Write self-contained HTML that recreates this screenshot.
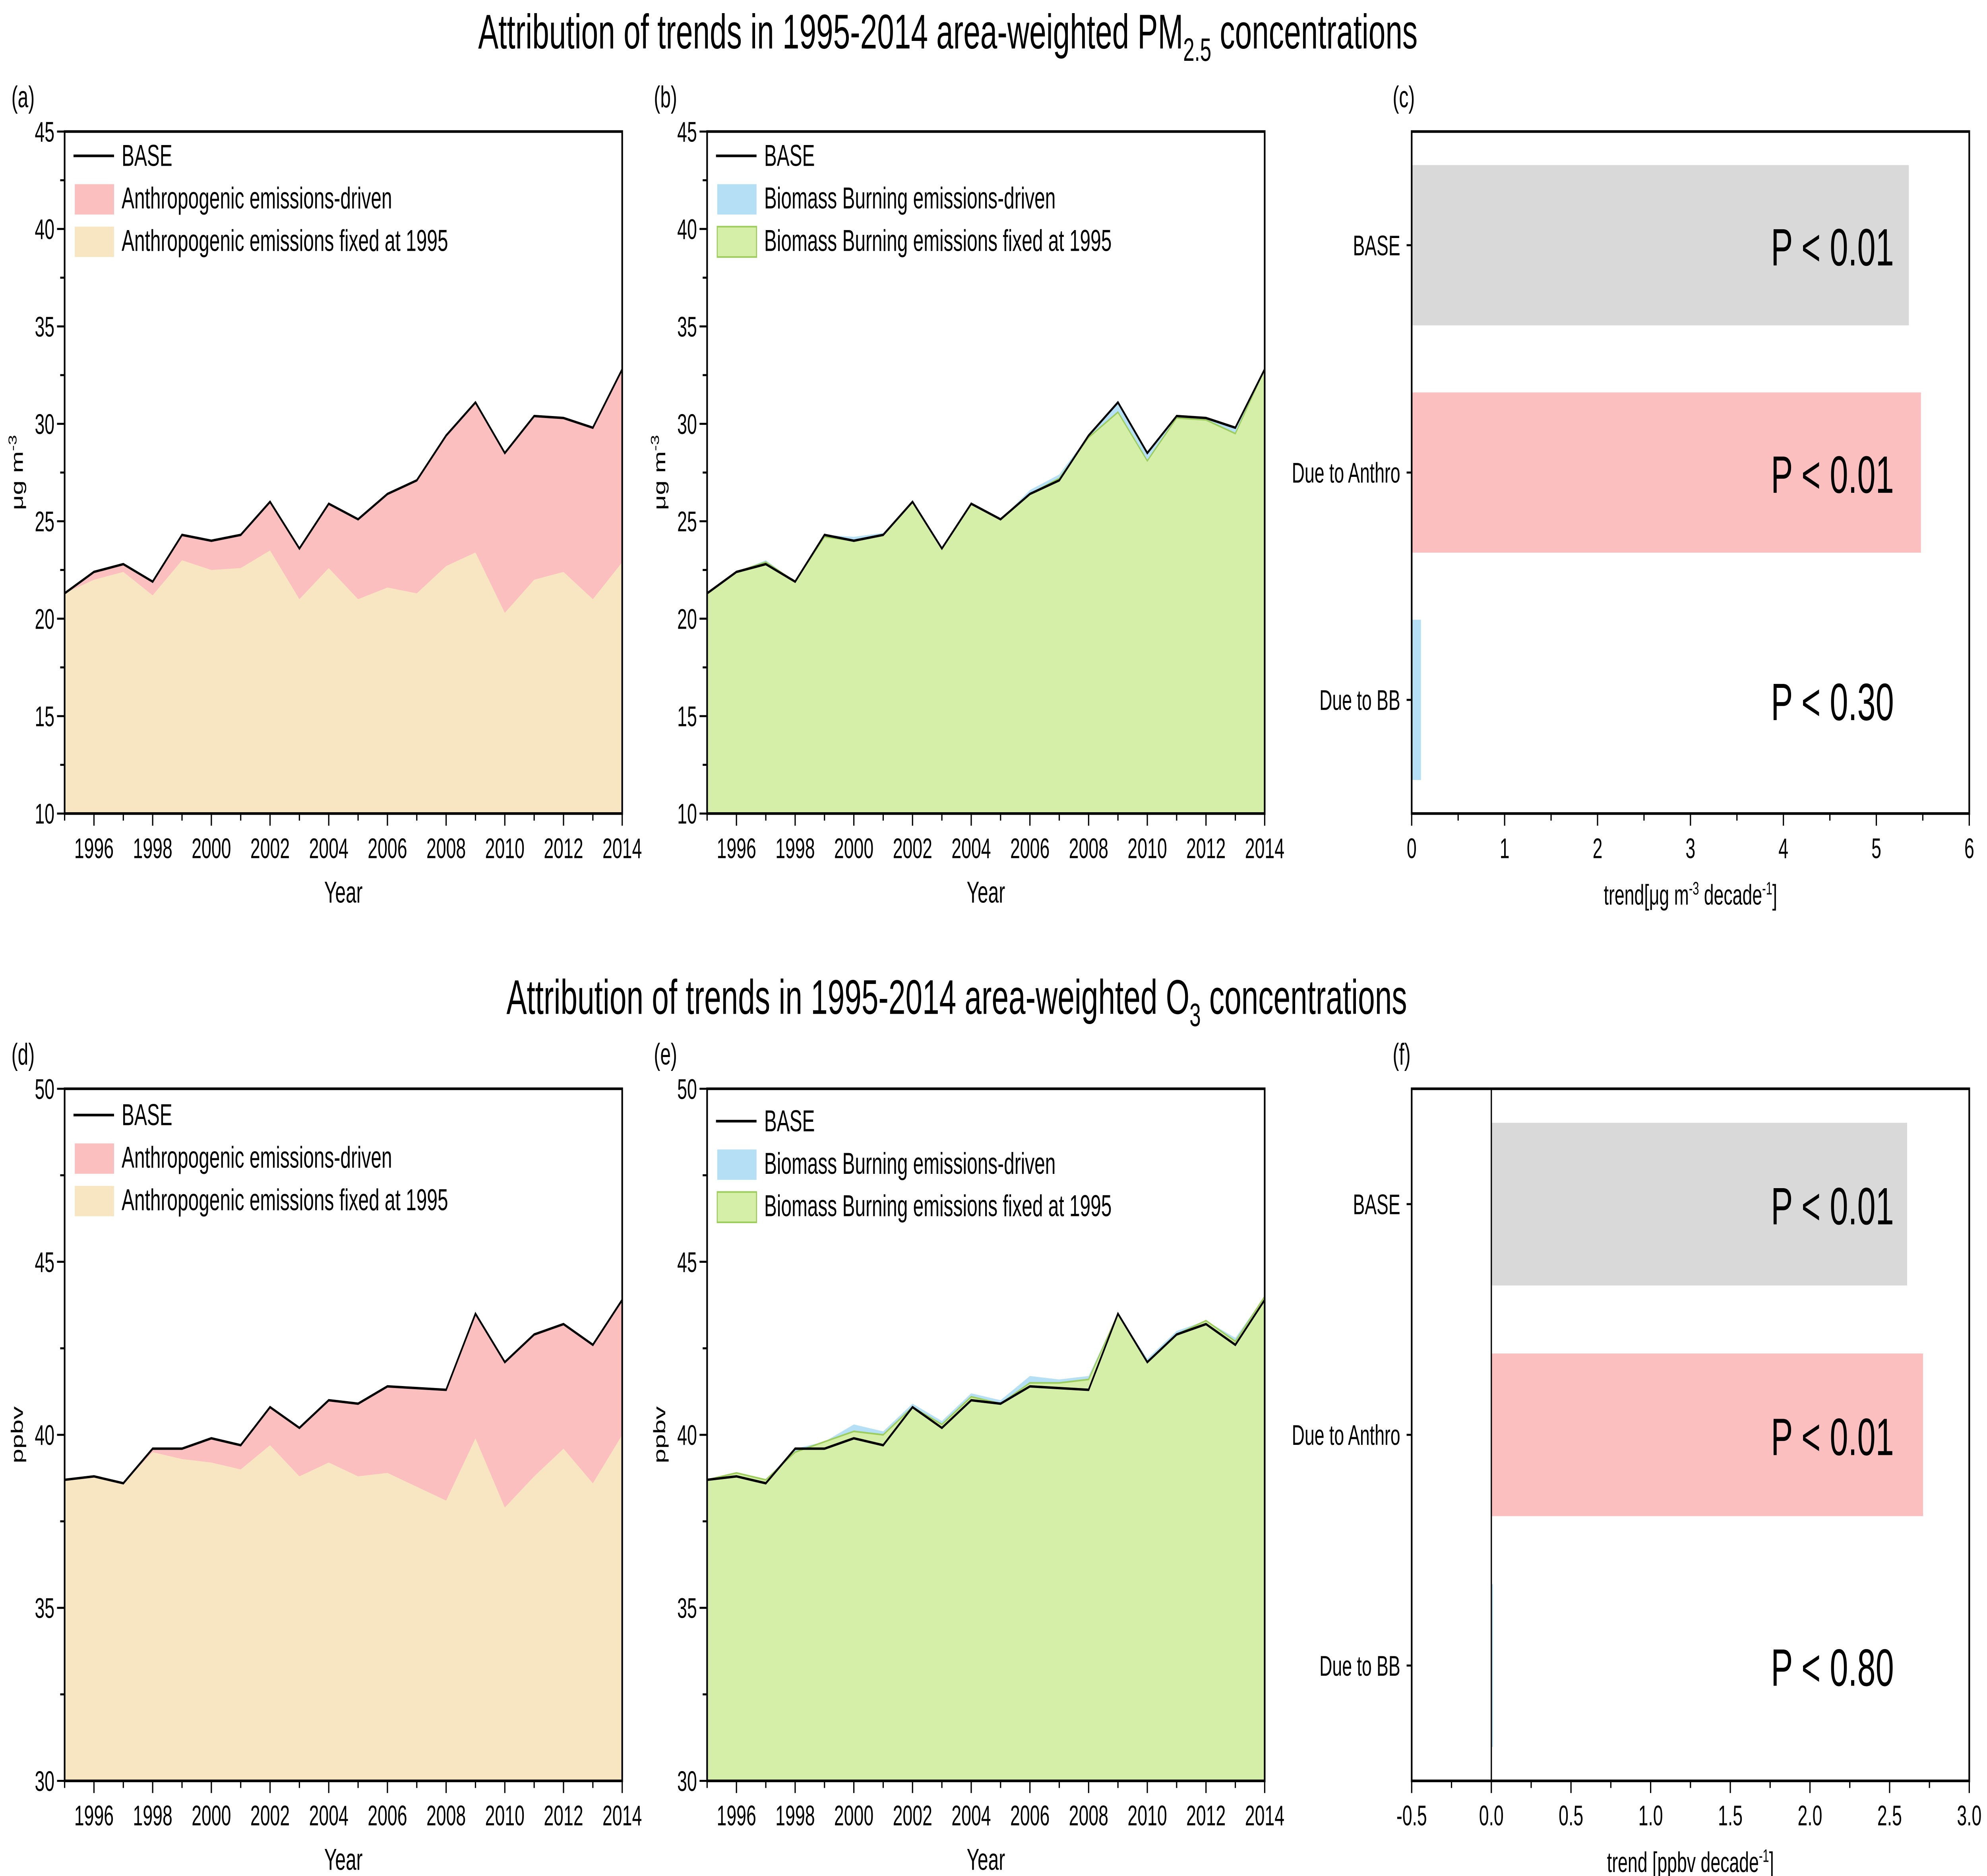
<!DOCTYPE html>
<html><head><meta charset="utf-8">
<style>
html,body{margin:0;padding:0;background:#fff;width:100%;height:100%;overflow:hidden;}
svg{display:block;position:absolute;left:0;top:0;width:100vw;height:100vh;font-family:"Liberation Sans",Arial,sans-serif;}
</style></head>
<body>
<svg id="fig" viewBox="0 0 1568 927" preserveAspectRatio="none" xmlns="http://www.w3.org/2000/svg">
<text x="748" y="24" font-size="24" text-anchor="middle">Attribution of trends in 1995-2014 area-weighted PM<tspan font-size="16" dy="6">2.5</tspan><tspan dy="-6"> concentrations</tspan></text>
<text x="755" y="501" font-size="24" text-anchor="middle">Attribution of trends in 1995-2014 area-weighted O<tspan font-size="16" dy="6">3</tspan><tspan dy="-6"> concentrations</tspan></text>
</svg>
<script>
const years=[1995,1996,1997,1998,1999,2000,2001,2002,2003,2004,2005,2006,2007,2008,2009,2010,2011,2012,2013,2014];
const yearTicks=[1996,1998,2000,2002,2004,2006,2008,2010,2012,2014];
const pmBase=[21.3,22.4,22.8,21.9,24.3,24.0,24.3,26.0,23.6,25.9,25.1,26.4,27.1,29.4,31.1,28.5,30.4,30.3,29.8,32.8];
const pmAnthFixed=[21.3,22.0,22.4,21.2,23.0,22.5,22.6,23.5,21.0,22.6,21.0,21.6,21.3,22.7,23.4,20.3,22.0,22.4,21.0,22.9];
const pmBBTop=[21.3,22.4,23.0,21.9,24.3,24.2,24.4,26.0,23.6,25.9,25.1,26.6,27.4,29.4,31.2,28.6,30.4,30.3,29.8,32.8];
const pmBBFixed=[21.3,22.4,22.9,21.9,24.2,24.0,24.3,26.0,23.6,25.9,25.1,26.4,27.2,29.3,30.6,28.1,30.3,30.2,29.5,32.8];
const pmTicks=[10,15,20,25,30,35,40,45];
const o3Base=[38.7,38.8,38.6,39.6,39.6,39.9,39.7,40.8,40.2,41.0,40.9,41.4,41.35,41.3,43.5,42.1,42.9,43.2,42.6,43.9];
const o3AnthFixed=[38.7,38.8,38.6,39.5,39.3,39.2,39.0,39.7,38.8,39.2,38.8,38.9,38.5,38.1,39.9,37.9,38.8,39.6,38.6,40.0];
const o3BBTop=[38.7,38.8,38.7,39.6,39.8,40.3,40.1,40.9,40.4,41.2,41.0,41.7,41.6,41.7,43.5,42.2,43.0,43.3,42.8,44.0];
const o3BBFixed=[38.7,38.9,38.7,39.5,39.8,40.1,40.0,40.8,40.3,41.1,40.9,41.5,41.5,41.6,43.5,42.1,42.9,43.3,42.7,44.0];
const o3Ticks=[30,35,40,45,50];
const barCats=["BASE","Due to Anthro","Due to BB"];
const pmTrend=[5.35,5.48,0.1];
const pmP=["P < 0.01","P < 0.01","P < 0.30"];
const pmTrendTicks=[0,1,2,3,4,5,6];
const o3Trend=[2.61,2.71,0.01];
const o3P=["P < 0.01","P < 0.01","P < 0.80"];
const o3TrendTicks=[-0.5,0,0.5,1.0,1.5,2.0,2.5,3.0];

const svg=document.getElementById('fig');
const NS='http://www.w3.org/2000/svg';
function mk(tag,attrs,parent){const e=document.createElementNS(NS,tag);for(const k in attrs)e.setAttribute(k,attrs[k]);(parent||svg).appendChild(e);return e;}
function txt(s,attrs,parent){const e=mk('text',attrs,parent);e.textContent=s;return e;}

function areaPanel(o){
  const g=mk('g',{});
  
  
  const X=v=>o.x0+(v-1995)/(2014-1995)*(o.x1-o.x0);
  const Y=v=>o.y1-(v-o.ymin)/(o.ymax-o.ymin)*(o.y1-o.y0);
  const area=(arr,fill,name,stroke)=>{
    let d='M'+X(years[0])+','+Y(o.ymin);
    years.forEach((yr,i)=>{d+=' L'+X(yr)+','+Y(arr[i]);});
    d+=' L'+X(years[years.length-1])+','+Y(o.ymin)+' Z';
    const p=mk('path',{d:d,fill:fill,stroke:stroke||'none','stroke-width':0.8},g);
    
    
  };
  area(o.top,o.topColor,o.topName);
  area(o.fixed,o.fixColor,o.fixName,o.fixStroke);
  let d='';
  years.forEach((yr,i)=>{d+=(i?' L':'M')+X(yr)+','+Y(o.base[i]);});
  const bl=mk('path',{d:d,fill:'none',stroke:'#000','stroke-width':1.2},g);
  
  
  const fr=mk('rect',{x:o.x0,y:o.y0,width:o.x1-o.x0,height:o.y1-o.y0,fill:'none',stroke:'#000','stroke-width':1.3},g);
  
  
  for(let yr=1995;yr<=2014;yr++){
    const major=yearTicks.includes(yr);
    mk('line',{x1:X(yr),x2:X(yr),y1:o.y1,y2:o.y1+(major?6:3.5),stroke:'#000','stroke-width':1},g);
  }
  yearTicks.forEach(yr=>{
    const t=txt(String(yr),{x:X(yr),y:o.y1+22,'font-size':14,'text-anchor':'middle'},g);
    
    
  });
  const step=o.ticks[1]-o.ticks[0];
  for(let v=o.ymin;v<=o.ymax+1e-9;v+=step/2){
    const major=o.ticks.some(t=>Math.abs(t-v)<1e-9);
    mk('line',{x1:o.x0,x2:o.x0-(major?6:3.5),y1:Y(v),y2:Y(v),stroke:'#000','stroke-width':1},g);
  }
  o.ticks.forEach(v=>{
    const t=txt(String(v),{x:o.x0-8,y:Y(v)+5,'font-size':14,'text-anchor':'end'},g);
    
    
  });
  const xt=txt('Year',{x:(o.x0+o.x1)/2,y:o.y1+44,'font-size':15,'text-anchor':'middle'},g);
  
  
  const yt=mk('text',{x:0,y:0,'font-size':13,'text-anchor':'middle',transform:'translate('+(o.x0-33)+','+((o.y0+o.y1)/2)+') rotate(-90)'},g);
  
  
  if(o.unit==='ug'){yt.innerHTML='μg m<tspan font-size="9" dy="-5">-3</tspan>';}else{yt.textContent='ppbv';}
  const pl=txt(o.label,{x:o.x0-42,y:o.y0-12,'font-size':15},g);
  
  
  const ly=o.legY;
  const lg=mk('g',{},g);
  
  
  mk('line',{x1:o.x0+7,x2:o.x0+39,y1:ly,y2:ly,stroke:'#000','stroke-width':1.3},lg);
  txt('BASE',{x:o.x0+45,y:ly+5,'font-size':15},lg);
  mk('rect',{x:o.x0+8,y:ly+14,width:31,height:15,fill:o.topColor},lg);
  txt(o.topName2,{x:o.x0+45,y:ly+26,'font-size':15},lg);
  mk('rect',{x:o.x0+8,y:ly+35,width:31,height:15,fill:o.fixColor,stroke:o.fixStroke||'none','stroke-width':0.8},lg);
  txt(o.fixName2,{x:o.x0+45,y:ly+47,'font-size':15},lg);
}

function barPanel(o){
  const g=mk('g',{});
  
  
  const X=v=>o.x0+(v-o.xmin)/(o.xmax-o.xmin)*(o.x1-o.x0);
  const h=o.y1-o.y0;
  const colors=['#d9d9d9','#fbbfc0','#b5dff4'];
  barCats.forEach((c,i)=>{
    const cy=o.y0+h*(i+0.5)/3;
    const bh=h*0.235;
    const v=o.vals[i];
    const r=mk('rect',{x:Math.min(X(0),X(v)),y:cy-bh/2,width:Math.max(Math.abs(X(v)-X(0)),1.2),height:bh,fill:colors[i]},g);
    
    
    mk('line',{x1:o.x0,x2:o.x0-4,y1:cy,y2:cy,stroke:'#000','stroke-width':1},g);
    const cl=txt(c,{x:o.x0-9,y:cy+5,'font-size':14,'text-anchor':'end'},g);
    
    
    const pt=txt(o.pvals[i],{x:1446,y:cy+10,'font-size':26,'text-anchor':'middle'},g);
    
    
  });
  if(o.zeroLine){mk('line',{x1:X(0),x2:X(0),y1:o.y0,y2:o.y1,stroke:'#000','stroke-width':1},g);}
  const fr=mk('rect',{x:o.x0,y:o.y0,width:o.x1-o.x0,height:h,fill:'none',stroke:'#000','stroke-width':1.3},g);
  
  
  const t=o.ticks;const st=t[1]-t[0];
  for(let v=t[0];v<=t[t.length-1]+1e-9;v+=st/2){
    const major=t.some(q=>Math.abs(q-v)<1e-9);
    mk('line',{x1:X(v),x2:X(v),y1:o.y1,y2:o.y1+(major?6:3.5),stroke:'#000','stroke-width':1},g);
  }
  t.forEach(v=>{
    const tl=txt(o.fmt(v),{x:X(v),y:o.y1+22,'font-size':14,'text-anchor':'middle'},g);
    
    
  });
  const xt=mk('text',{x:(o.x0+o.x1)/2,y:o.y1+45,'font-size':14,'text-anchor':'middle'},g);
  
  
  xt.innerHTML=o.title;
  const pl=txt(o.label,{x:o.x0-15,y:o.y0-12,'font-size':15},g);
  
  
}

const pink='#fbbfc0', beige='#f7e6c1', blue='#b5dff4', green='#d6efa8';
areaPanel({name:'panel-a',label:'(a)',x0:51,x1:491,y0:65,y1:402,ymin:10,ymax:45,ticks:pmTicks,unit:'ug',base:pmBase,top:pmBase,fixed:pmAnthFixed,topColor:pink,fixColor:beige,topName:'anthro-driven-area',fixName:'anthro-fixed-area',topName2:'Anthropogenic emissions-driven',fixName2:'Anthropogenic emissions fixed at 1995',legY:77});
areaPanel({name:'panel-b',label:'(b)',x0:558,x1:998,y0:65,y1:402,ymin:10,ymax:45,ticks:pmTicks,unit:'ug',base:pmBase,top:pmBBTop,fixed:pmBBFixed,topColor:blue,fixColor:green,fixStroke:'#9ccc5a',topName:'bb-driven-area',fixName:'bb-fixed-area',topName2:'Biomass Burning emissions-driven',fixName2:'Biomass Burning emissions fixed at 1995',legY:77});
areaPanel({name:'panel-d',label:'(d)',x0:51,x1:491,y0:538,y1:880,ymin:30,ymax:50,ticks:o3Ticks,unit:'ppbv',base:o3Base,top:o3Base,fixed:o3AnthFixed,topColor:pink,fixColor:beige,topName:'anthro-driven-area',fixName:'anthro-fixed-area',topName2:'Anthropogenic emissions-driven',fixName2:'Anthropogenic emissions fixed at 1995',legY:551});
areaPanel({name:'panel-e',label:'(e)',x0:558,x1:998,y0:538,y1:880,ymin:30,ymax:50,ticks:o3Ticks,unit:'ppbv',base:o3Base,top:o3BBTop,fixed:o3BBFixed,topColor:blue,fixColor:green,fixStroke:'#9ccc5a',topName:'bb-driven-area',fixName:'bb-fixed-area',topName2:'Biomass Burning emissions-driven',fixName2:'Biomass Burning emissions fixed at 1995',legY:554});
barPanel({name:'panel-c',label:'(c)',x0:1114,x1:1554,y0:65,y1:402,xmin:0,xmax:6,ticks:pmTrendTicks,vals:pmTrend,pvals:pmP,fmt:v=>String(v),title:'trend[μg m<tspan font-size="9" dy="-5">-3</tspan><tspan dy="5"> decade</tspan><tspan font-size="9" dy="-5">-1</tspan><tspan dy="5">]</tspan>',zeroLine:false});
barPanel({name:'panel-f',label:'(f)',x0:1114,x1:1554,y0:538,y1:880,xmin:-0.5,xmax:3.0,ticks:o3TrendTicks,vals:o3Trend,pvals:o3P,fmt:v=>v.toFixed(1),title:'trend [ppbv decade<tspan font-size="9" dy="-5">-1</tspan><tspan dy="5">]</tspan>',zeroLine:true});
</script>
</body></html>
